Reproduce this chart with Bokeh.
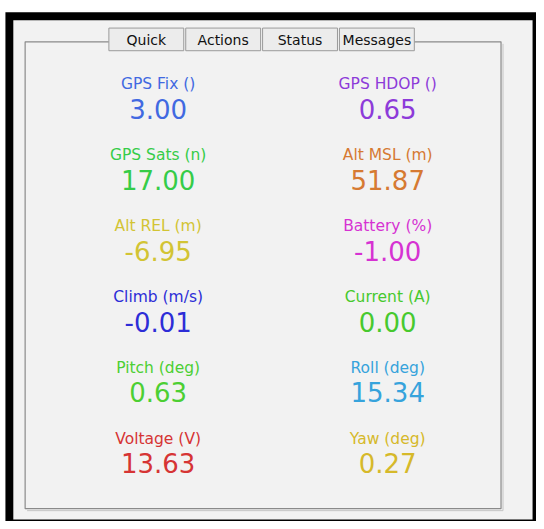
from bokeh.plotting import figure
from bokeh.models import Range1d, ColumnDataSource
from bokeh.core.properties import value
from bokeh.embed import file_html
from bokeh.resources import INLINE

# ---- data ----
tabs = ["Quick", "Actions", "Status", "Messages"]
labels = ["GPS Fix ()", "GPS HDOP ()", "GPS Sats (n)", "Alt MSL (m)",
          "Alt REL (m)", "Battery (%)", "Climb (m/s)", "Current (A)",
          "Pitch (deg)", "Roll (deg)", "Voltage (V)", "Yaw (deg)"]
values = [3.00, 0.65, 17.00, 51.87, -6.95, -1.00, -0.01, 0.00, 0.63, 15.34, 13.63, 0.27]
colors = ["#4169e1", "#8d3bd9", "#35cc48", "#d67a32",
          "#d2c434", "#d632d2", "#2d2dd7", "#47c92e",
          "#4ccf33", "#36a3dc", "#d63434", "#d6b92a"]

FONT = "DejaVu Sans"

p = figure(width=536, height=521, output_backend="svg", toolbar_location=None,
           x_range=Range1d(0, 544), y_range=Range1d(529, 0), min_border=0)
p.axis.visible = False
p.grid.visible = False
p.outline_line_color = None
p.background_fill_color = "white"
p.border_fill_color = "white"

# window frame
p.quad(left=[5], right=[544], top=[12], bottom=[529], fill_color="black", line_color=None)
p.quad(left=[13], right=[540], top=[20], bottom=[527], fill_color="#f2f2f2", line_color=None)

# group box
p.line(x=[110, 25, 25, 508, 508, 420], y=[42, 42, 516, 516, 42, 42], line_color="#8a8a8a", line_width=1.2)
p.line(x=[510, 510], y=[44, 518], line_color="#c4c4c4", line_width=1)
p.line(x=[27, 510], y=[518, 518], line_color="#c4c4c4", line_width=1)

# tabs
tab_left = [110 + 78 * i for i in range(len(tabs))]
tsrc = ColumnDataSource(dict(l=tab_left, r=[x + 76 for x in tab_left],
                             c=[x + 38 for x in tab_left], t=tabs))
p.quad(left="l", right="r", top=28, bottom=51, source=tsrc,
       fill_color="#ececec", line_color="#9a9a9a", line_width=1)
p.text(x="c", y=40, text="t", source=tsrc, text_font=value(FONT),
       text_font_size="14px", text_align="center", text_baseline="middle",
       text_color="#111111")

# quick values
col_x = [160, 393]
xs = [col_x[i % 2] for i in range(len(labels))]
ly = [85 + 72 * (i // 2) for i in range(len(labels))]
vy = [y + 25 for y in ly]
src = ColumnDataSource(dict(x=xs, ly=ly, vy=vy, lab=labels,
                            val=[f"{v:.2f}" for v in values], col=colors))
p.text(x="x", y="ly", text="lab", source=src, text_color="col",
       text_font=value(FONT), text_font_size="15.5px",
       text_align="center", text_baseline="middle")
p.text(x="x", y="vy", text="val", source=src, text_color="col",
       text_font=value(FONT), text_font_size="26px",
       text_align="center", text_baseline="middle")

open("out.html", "w").write(file_html(p, INLINE))
